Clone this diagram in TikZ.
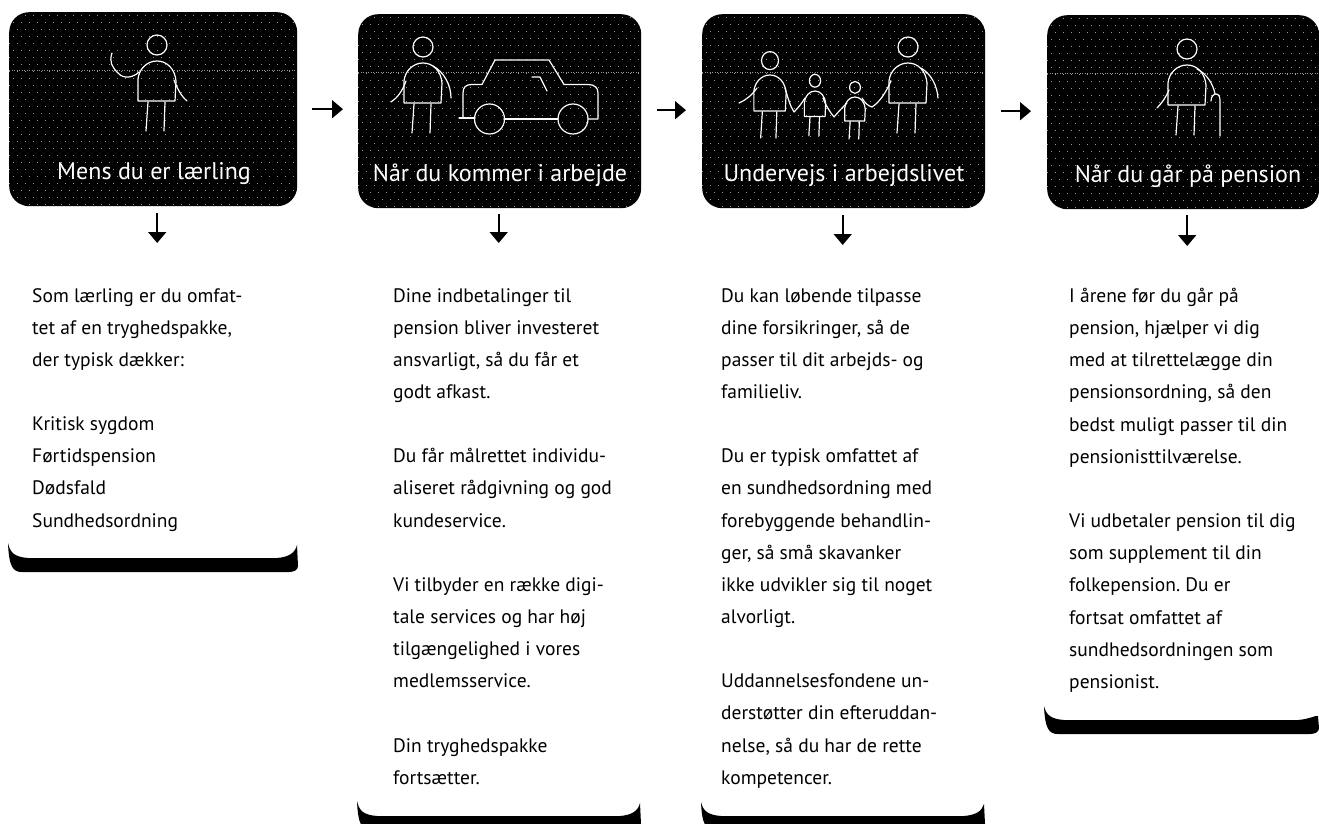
\documentclass[tikz,border=0pt]{standalone}
\usepackage{fontspec}
\setmainfont{PT Sans}
\usetikzlibrary{arrows.meta}
\frenchspacing
\tikzset{
  x=1pt,y=-1pt,
  dotrow/.style={draw=white!60!black,line width=.7pt,dash pattern=on .7pt off 7.3pt},
  stagebox/.style={fill=black,draw=none,rounded corners=20pt,inner sep=0pt,
    path picture={
      \foreach \i in {0,...,13}{
        \draw[dotrow] ([yshift={-3-\i*14}]path picture bounding box.north west) -- ([yshift={-3-\i*14}]path picture bounding box.north east);
        \draw[dotrow] ([xshift=4pt,yshift={-10-\i*14}]path picture bounding box.north west) -- ([yshift={-10-\i*14}]path picture bounding box.north east);
      }
      \draw[white!60!black,line width=.6pt,dash pattern=on 1pt off 1.5pt] ([yshift=-58pt]path picture bounding box.north west) -- ([yshift=-58pt]path picture bounding box.north east);
    }},
  caption/.style={text=white,font=\fontsize{24}{26}\selectfont,inner sep=0pt,anchor=base},
  body/.style={text=black,font=\fontsize{19.5}{32.15}\selectfont,align=left,inner sep=0pt,anchor=north west},
  flow/.style={draw=black,line width=1.7pt,-{Triangle[width=18pt,length=11pt]}},
  tray/.style={fill=black,draw=none},
  ink/.style={draw=white,line width=1.2pt,line cap=round,line join=round},
  person/.pic={
    \draw[ink] (-19,40) -- (-19,18) .. controls (-18,8) and (-10,0) .. (0,0) .. controls (10,0) and (18,8) .. (19,20) -- (18,40) -- cycle;
    \draw[ink] (-9,41) -- (-11,70);
    \draw[ink] (8,41) -- (7,70);
    \draw[ink] (0,-16) circle[radius=10];
  }
}
\newcommand{\traypath}[5]{% left, right, left tip y, inner y, right tip y
  \fill[tray] (#1,#3) .. controls (#1+2,#4-5) and (#1+7,#4-1) .. (#1+20,#4) -- (#2-20,#4)
    .. controls (#2-8,#4-1) and (#2-2,#4-5) .. (#2,#5) -- (#2+1,#4+8) .. controls (#2+1,#4+12) and (#2-3,#4+14) .. (#2-8,#4+14)
    -- (#1+14,#4+14) .. controls (#1+5,#4+14) and (#1+1,#4+9) .. (#1,#3) -- cycle;
}
\begin{document}
\begin{tikzpicture}
\useasboundingbox (0,0) rectangle (1319,824);
% boxes
\node[stagebox,minimum width=288pt,minimum height=194pt,anchor=north west] (b1) at (9,12) {};
\node[stagebox,minimum width=283pt,minimum height=194pt,anchor=north west] (b2) at (358,14) {};
\node[stagebox,minimum width=283pt,minimum height=194pt,anchor=north west] (b3) at (702,14) {};
\node[stagebox,minimum width=272pt,minimum height=194pt,anchor=north west] (b4) at (1047,15) {};
% captions
\node[caption] (c1) at (154,179) {Mens du er lærling};
\node[caption] (c2) at (500,181) {Når du kommer i arbejde};
\node[caption] (c3) at (844,181) {Undervejs i arbejdslivet};
\node[caption] (c4) at (1188,182) {Når du går på pension};
% figure 1
\pic at (157,61) {person};
\draw[ink] (139,72) .. controls (134,77) and (124,80) .. (118,73) .. controls (112,67) and (109,62) .. (112,53);
\draw[ink] (174,80) .. controls (177,88) and (181,96) .. (187,101);
% figure 2
\pic at (423,63) {person};
\draw[ink] (406,81) .. controls (402,92) and (397,98) .. (391,102);
\draw[ink] (433,66) .. controls (444,72) and (451,85) .. (451,98);
% car
\draw[ink] (459,118) -- (475,118);
\draw[ink] (463,118) -- (463,93) .. controls (463,87) and (466,84.5) .. (472,84.5) -- (482,84.5) -- (495,60) -- (549,60) -- (564,84.5) -- (588,84.5) .. controls (595,84.5) and (598,88) .. (598,93) -- (598,119) -- (588,119);
\draw[ink] (504,119) -- (558,119);
\draw[ink] (489.5,119) circle[radius=15];
\draw[ink] (573,119) circle[radius=15];
\draw[ink] (532,77) -- (540,77) -- (547,91);
% figure 3
\pic[xscale=.85,yscale=.9] at (770,75) {person};
\pic[xscale=.56,yscale=.64] at (815,91) {person};
\pic[xscale=.54,yscale=.6] at (855,97) {person};
\pic at (908,63) {person};
\draw[ink] (757,88) .. controls (752,95) and (746,100) .. (739,103);
\draw[ink] (785,88) .. controls (788,98) and (790,106) .. (794,112) .. controls (798,108) and (802,103) .. (805,98);
\draw[ink] (823,98) .. controls (826,106) and (830,112) .. (834,117) .. controls (838,112) and (843,107) .. (847,103);
\draw[ink] (862,98) .. controls (865,103) and (868,106) .. (872,107) .. controls (880,102) and (886,92) .. (891,81);
\draw[ink] (921,68) .. controls (931,74) and (937,85) .. (938,98);
% figure 4
\pic at (1187,65) {person};
\draw[ink] (1169,90) .. controls (1166,97) and (1162,103) .. (1157,108);
\draw[ink] (1197,69) .. controls (1207,74) and (1213,84) .. (1215,94);
\draw[ink] (1211,101) .. controls (1211,96) and (1214,94) .. (1216,94) .. controls (1219,94) and (1220,97) .. (1220,101) -- (1220,136);
% text
\node[body] (t1) at (32,288) {Som lærling er du omfat-\\tet af en tryghedspakke,\\der typisk dækker:\\[32.15pt]Kritisk sygdom\\Førtidspension\\Dødsfald\\Sundhedsordning};
\node[body] (t2) at (393,288) {Dine indbetalinger til\\pension bliver investeret\\ansvarligt, så du får et\\godt afkast.\\[32.15pt]Du får målrettet individu-\\aliseret rådgivning og god\\kundeservice.\\[32.15pt]Vi tilbyder en række digi-\\tale services og har høj\\tilgængelighed i vores\\medlemsservice.\\[32.15pt]Din tryghedspakke\\fortsætter.};
\node[body] (t3) at (721,288) {Du kan løbende tilpasse\\dine forsikringer, så de\\passer til dit arbejds- og\\familieliv.\\[32.15pt]Du er typisk omfattet af\\en sundhedsordning med\\forebyggende behandlin-\\ger, så små skavanker\\ikke udvikler sig til noget\\alvorligt.\\[32.15pt]Uddannelsesfondene un-\\derstøtter din efteruddan-\\nelse, så du har de rette\\kompetencer.};
\node[body] (t4) at (1069,288) {I årene før du går på\\pension, hjælper vi dig\\med at tilrettelægge din\\pensionsordning, så den\\bedst muligt passer til din\\pensionisttilværelse.\\[32.15pt]Vi udbetaler pension til dig\\som supplement til din\\folkepension. Du er\\fortsat omfattet af\\sundhedsordningen som\\pensionist.};
% trays
\traypath{8}{297}{543}{558}{545}
\traypath{357}{640}{801}{816}{803}
\traypath{701}{984}{802}{816}{804}
\traypath{1044}{1318}{706}{720}{716}
% arrows
\draw[flow] ([shift={(15,0)}]b1.east) -- ([shift={(-15,-2)}]b2.west);
\draw[flow] ([shift={(16,-1)}]b2.east) -- ([shift={(-16,-1)}]b3.west);
\draw[flow] ([shift={(16,0)}]b3.east) -- ([shift={(-16,-1)}]b4.west);
\draw[flow] ([shift={(4,7)}]b1.south) -- ([shift={(4,-45)}]b1.south |- t1.north);
\draw[flow] ([shift={(-1,6)}]b2.south) -- ([shift={(-1,-45)}]b2.south |- t2.north);
\draw[flow] ([shift={(-1,7)}]b3.south) -- ([shift={(-1,-43)}]b3.south |- t3.north);
\draw[flow] ([shift={(4,6)}]b4.south) -- ([shift={(4,-42)}]b4.south |- t4.north);
\end{tikzpicture}
\end{document}
